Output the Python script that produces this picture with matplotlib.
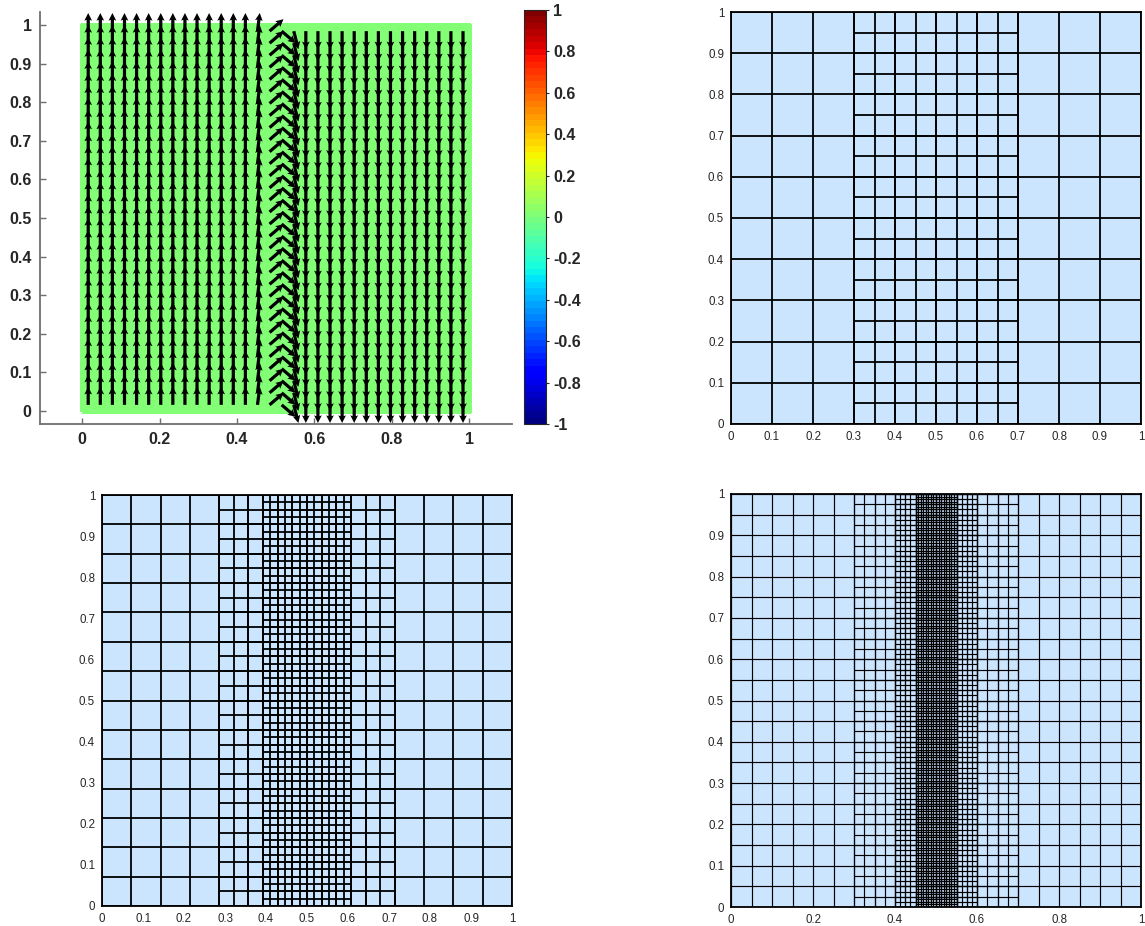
import numpy as np
import matplotlib
matplotlib.use("Agg")
import matplotlib.pyplot as plt
from matplotlib.collections import LineCollection
from matplotlib.cm import ScalarMappable
from matplotlib.colors import Normalize

plt.rcParams['font.family'] = ['Liberation Sans', 'DejaVu Sans']

# velocity field on a 32x32 grid of cell centres (one u,v per column)
n_cells = 32
col_u = [0.0] * 14 + [0.006, 0.036, 0.036, 0.012] + [0.0] * 14
col_v = [0.047] * 14 + [0.047, 0.031, -0.031, -0.047] + [-0.047] * 14
field_value = 0.0

cbar_ticks = [-1, -0.8, -0.6, -0.4, -0.2, 0, 0.2, 0.4, 0.6, 0.8, 1]

# refinement zones of each mesh: (x start, x end, cell size)
mesh_a = [(0.0, 1.0, 1 / 10), (0.3, 0.7, 1 / 20)]
mesh_b = [(0.0, 1.0, 1 / 14), (4 / 14, 10 / 14, 1 / 28), (11 / 28, 17 / 28, 1 / 56)]
mesh_c = [(0.0, 1.0, 1 / 20), (0.3, 0.7, 1 / 40), (0.4, 0.6, 1 / 80), (0.45, 0.55, 1 / 160)]

W, H = 1145, 926
fig = plt.figure(figsize=(W / 100, H / 100), dpi=100)


def px_axes(l, t, r, b):
    return fig.add_axes([l / W, 1 - b / H, (r - l) / W, (b - t) / H])


def fmt(v):
    v = round(v, 6)
    return f"{v:g}" if v != 0 else "0"


# ---- top left: quiver over scalar field ----
jet = plt.get_cmap('jet', 64)
ax = px_axes(40, 12, 512, 424)
edges = np.linspace(0, 1, n_cells + 1)
centres = (edges[:-1] + edges[1:]) / 2
C = np.full((n_cells, n_cells), field_value)
ax.pcolormesh(edges, edges, C, cmap=jet, vmin=-1, vmax=1,
              edgecolors='face', linewidth=2.5)
X, Y = np.meshgrid(centres, centres)
U = np.tile(col_u, (n_cells, 1))
V = np.tile(col_v, (n_cells, 1))
ax.quiver(X, Y, U, V, angles='xy', scale_units='xy', scale=1, pivot='tail',
          color='black', width=0.0068, headwidth=2.4, headlength=2.4,
          headaxislength=2.1)
ax.set_xlim(-0.109, 1.111)
ax.set_ylim(-0.034, 1.034)
ax.set_xticks(np.round(np.arange(0, 1.01, 0.2), 1))
ax.set_yticks(np.round(np.arange(0, 1.01, 0.1), 1))
ax.set_xticklabels([fmt(v) for v in ax.get_xticks()])
ax.set_yticklabels([fmt(v) for v in ax.get_yticks()])
for s in ['top', 'right']:
    ax.spines[s].set_visible(False)
for s in ['left', 'bottom']:
    ax.spines[s].set_color('#6e6e6e')
    ax.spines[s].set_linewidth(1.3)
ax.tick_params(direction='in', length=4, width=1, color='#6e6e6e',
               labelcolor='#262626', labelsize=11.5, pad=6)
plt.setp(ax.get_xticklabels() + ax.get_yticklabels(), fontweight='bold')

cax = px_axes(524, 10, 546, 424)
cb = fig.colorbar(ScalarMappable(norm=Normalize(-1, 1), cmap=jet), cax=cax)
cb.set_ticks(cbar_ticks)
cb.set_ticklabels([fmt(v) for v in cbar_ticks])
cb.outline.set_edgecolor('#262626')
cb.outline.set_linewidth(0.8)
cax.tick_params(direction='out', length=2, width=0.8, color='#262626',
                labelcolor='#262626', labelsize=11.5, pad=3)
plt.setp(cax.get_yticklabels(), fontweight='bold')


# ---- meshes ----
def draw_mesh(ax, zones, lw, xstep):
    segs = []
    for x0, x1, h in zones:
        nx = int(round((x1 - x0) / h))
        ny = int(round(1 / h))
        for i in range(nx + 1):
            x = x0 + i * h
            segs.append([(x, 0), (x, 1)])
        for j in range(ny + 1):
            y = j * h
            segs.append([(x0, y), (x1, y)])
    ax.set_facecolor('#cce5ff')
    ax.add_collection(LineCollection(segs, colors='black', linewidths=lw))
    ax.set_xlim(0, 1)
    ax.set_ylim(0, 1)
    xt = np.round(np.arange(0, 1.0001, xstep), 1)
    yt = np.round(np.arange(0, 1.0001, 0.1), 1)
    ax.set_xticks(xt)
    ax.set_yticks(yt)
    ax.set_xticklabels([fmt(v) for v in xt])
    ax.set_yticklabels([fmt(v) for v in yt])
    for s in ax.spines.values():
        s.set_linewidth(1.3)
        s.set_color('black')
    ax.tick_params(length=0, labelsize=8.3, labelcolor='#262626', pad=5)


draw_mesh(px_axes(731, 12, 1141, 424), mesh_a, 1.3, 0.1)
draw_mesh(px_axes(102, 495, 512, 906), mesh_b, 1.3, 0.1)
draw_mesh(px_axes(731, 494, 1141, 907), mesh_c, 0.85, 0.2)

fig.savefig('out.png', dpi=100)
